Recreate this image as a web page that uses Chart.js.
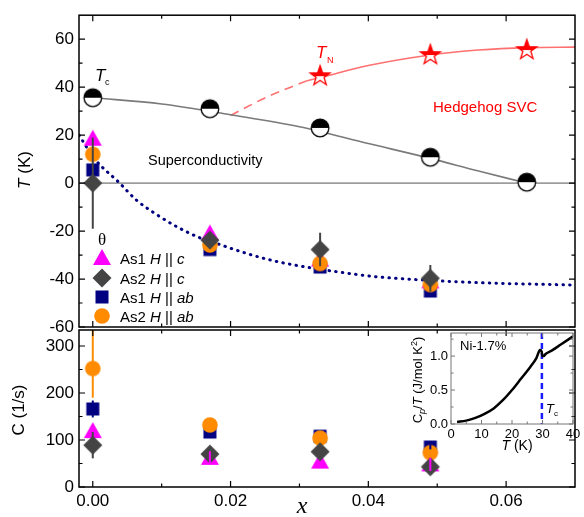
<!doctype html>
<html lang="en">
<head>
<meta charset="utf-8">
<title>Tc, TN and theta vs Ni concentration</title>
<script src="https://cdn.jsdelivr.net/npm/chart.js@4.4.1/dist/chart.umd.min.js"></script>
<style>
  body { margin: 0; background: #fff; }
  canvas { position: absolute; left: 0; top: 0; }
</style>
</head>
<body>
<canvas id="topChart" width="584" height="517"></canvas>
<canvas id="bottomChart" width="584" height="517"></canvas>
<canvas id="insetChart" width="584" height="517"></canvas>
<script>
const SANS = "'Liberation Sans', Arial, sans-serif";
const SERIF = "'Liberation Serif', 'Times New Roman', serif";

// x = Ni concentration
const xMajor = [0, 0.02, 0.04, 0.06];
const xMinor = [0.01, 0.03, 0.05];

// upper panel, temperature (K)
const tMajor = [-60, -40, -20, 0, 20, 40, 60];
const tMinor = [-50, -30, -10, 10, 30, 50];
const tcX = [0, 0.017, 0.033, 0.049, 0.063];
const tcT = [35.6, 31, 23, 10.8, 0.4];
const tnX = [0.033, 0.049, 0.063];
const tnT = [45, 53.8, 55.9];

// guide lines
const tcLineX = [0, 0.01, 0.02, 0.03, 0.04, 0.049, 0.056, 0.063];
const tcLineT = [35.6, 33, 28.5, 23.5, 16.5, 10.3, 5, 0];
const tnDashX = [0.02, 0.025, 0.031];
const tnDashT = [28.2, 35.5, 42.6];
const tnLineX = [0.031, 0.033, 0.04, 0.049, 0.056, 0.063, 0.07];
const tnLineT = [42.6, 44, 49, 53.4, 55.5, 56.5, 56.7];
const thetaLineX = [-0.002, 0.0003, 0.0039, 0.0063, 0.0091, 0.0124, 0.0157, 0.0181, 0.0224, 0.0267, 0.0314, 0.0363, 0.041, 0.0491, 0.0567, 0.07];
const thetaLineT = [20, 10, 0, -7, -12.8, -18.5, -23, -25.3, -29.4, -32.7, -35.2, -37.3, -39, -40.6, -41.6, -42.5];

// theta for the four sites / field directions
const sampleX = [0, 0.017, 0.033, 0.049];
const thetaAs1c = [18.5, -21, -31.9, -41];
const thetaAs2c = [0, -23.8, -27.7, -39.7];
const thetaAs1ab = [5.5, -27.7, -35, -45];
const thetaAs2ab = [12, -25.8, -33.5, -42.3];
const thetaAs2cErr = [19, 1.5, 7, 5.5];

// lower panel, C (1/s)
const cMajor = [0, 100, 200, 300];
const cMinor = [50, 150, 250];
const cAs1c = [119, 62, 54, 48];
const cAs2c = [89, 70, 75, 43];
const cAs1ab = [166, 117, 108, 85];
const cAs2ab = [252, 132, 104, 73];
const cAs1cErr = [0, 14, 0, 14];
const cAs2cErr = [28, 0, 6, 0];
const cAs1abErr = [18, 0, 0, 5];
const cAs2abErrLow = [62, 0, 0, 0];
const cAs2abErrHigh = [85, 0, 0, 0];

// inset, specific heat of Ni-1.7%
const insetTMajor = [0, 10, 20, 30, 40];
const insetTMinor = [5, 15, 25, 35];
const insetCMajor = [0, 0.5, 1.0];
const insetCMinor = [0.25, 0.75, 1.25];
const insetT = [2, 5, 8, 11, 14, 17, 20, 23, 26, 28, 29.2, 29.7, 30, 30.4, 31, 33, 36, 40];
const insetCp = [0.03, 0.05, 0.09, 0.15, 0.23, 0.35, 0.5, 0.67, 0.84, 0.97, 1.09, 1.07, 1.0, 1.0, 1.03, 1.08, 1.17, 1.29];
const insetTc = 29.8;

// ---- marker images ----
function markerCanvas(size, draw) {
  const c = document.createElement('canvas');
  c.width = c.height = size;
  draw(c.getContext('2d'), size / 2);
  return c;
}
const triangleMark = markerCanvas(22, (g, m) => {
  g.fillStyle = '#ff00ff';
  g.beginPath(); g.moveTo(m, m - 9); g.lineTo(m + 9, m + 7); g.lineTo(m - 9, m + 7); g.closePath(); g.fill();
});
const diamondMark = markerCanvas(22, (g, m) => {
  g.fillStyle = '#444';
  g.beginPath(); g.moveTo(m, m - 9.5); g.lineTo(m + 9.5, m); g.lineTo(m, m + 9.5); g.lineTo(m - 9.5, m); g.closePath(); g.fill();
});
const squareMark = markerCanvas(16, (g, m) => {
  g.fillStyle = '#000080';
  g.fillRect(m - 6.5, m - 6.5, 13, 13);
});
const circleMark = markerCanvas(18, (g, m) => {
  g.fillStyle = '#ff8c00';
  g.beginPath(); g.arc(m, m, 7.8, 0, 2 * Math.PI); g.fill();
});
const halfCircleMark = markerCanvas(22, (g, m) => {
  g.beginPath(); g.arc(m, m, 8.8, 0, 2 * Math.PI); g.fillStyle = '#fff'; g.fill();
  g.beginPath(); g.arc(m, m, 8.8, Math.PI, 2 * Math.PI); g.closePath(); g.fillStyle = '#000'; g.fill();
  g.beginPath(); g.arc(m, m, 8.8, 0, 2 * Math.PI); g.lineWidth = 1.3; g.strokeStyle = '#000'; g.stroke();
});
const starMark = markerCanvas(26, (g, m) => {
  const path = () => {
    g.beginPath();
    for (let i = 0; i < 10; i++) {
      const r = i % 2 ? 4.2 : 10.5;
      const a = -Math.PI / 2 + i * Math.PI / 5;
      g.lineTo(m + r * Math.cos(a), m + 1 + r * Math.sin(a));
    }
    g.closePath();
  };
  path(); g.fillStyle = '#fff'; g.fill();
  g.save(); g.beginPath(); g.rect(0, 0, 26, m + 1); g.clip(); path(); g.fillStyle = '#ff0000'; g.fill(); g.restore();
  path(); g.strokeStyle = '#ff0000'; g.lineWidth = 1.3; g.stroke();
});

// ---- helpers ----
const pts = (xs, ys) => xs.map((x, i) => ({ x, y: ys[i] }));
const markers = (xs, ys, img, order) => ({ data: pts(xs, ys), pointStyle: img, pointRadius: 8, order });
const curve = (xs, ys, color, width, dash, order) => ({
  data: pts(xs, ys), showLine: true, pointRadius: 0, borderColor: color, borderWidth: width,
  borderDash: dash, cubicInterpolationMode: 'monotone', order
});

function axis(min, max, ticks, size, pad, fit, fmt) {
  return {
    type: 'linear', min, max,
    afterFit: fit,
    afterBuildTicks: s => { s.ticks = ticks.map(v => ({ value: v })); },
    grid: { display: false, drawTicks: false },
    border: { display: false },
    ticks: { color: '#000', padding: pad, font: { family: SANS, size }, autoSkip: false, maxRotation: 0, callback: fmt }
  };
}

function drawRuns(ctx, x, y, runs, center) {
  let w = 0;
  runs.forEach(r => { ctx.font = r[1]; w += ctx.measureText(r[0]).width; });
  let cx = center ? x - w / 2 : x;
  runs.forEach(r => {
    ctx.font = r[1];
    ctx.fillStyle = r[2] || '#000';
    ctx.fillText(r[0], cx, y + (r[3] || 0));
    cx += ctx.measureText(r[0]).width;
  });
}

function errorBars(list) {
  return {
    id: 'errorBars',
    afterDatasetsDraw(chart) {
      const { ctx, chartArea: a, scales: { x, y } } = chart;
      ctx.save();
      ctx.beginPath(); ctx.rect(a.left, a.top, a.width, a.height); ctx.clip();
      list.forEach(b => {
        ctx.strokeStyle = b.color;
        ctx.lineWidth = b.width;
        b.xs.forEach((xv, i) => {
          const lo = b.low[i], hi = b.high[i];
          if (!lo && !hi) return;
          const px = x.getPixelForValue(xv);
          ctx.beginPath();
          ctx.moveTo(px, y.getPixelForValue(b.ys[i] - lo));
          ctx.lineTo(px, y.getPixelForValue(b.ys[i] + hi));
          ctx.stroke();
        });
      });
      ctx.restore();
    }
  };
}

function frame(cfg) {
  return {
    id: 'frame',
    afterDatasetsDraw(chart) {
      const { ctx, chartArea: a, scales: { x, y } } = chart;
      ctx.save();
      ctx.strokeStyle = cfg.color;
      ctx.lineWidth = cfg.tickWidth;
      ctx.beginPath();
      const xt = (vals, len) => vals.forEach(v => {
        const p = x.getPixelForValue(v);
        ctx.moveTo(p, a.top); ctx.lineTo(p, a.top + len);
        ctx.moveTo(p, a.bottom); ctx.lineTo(p, a.bottom - len);
      });
      const yt = (vals, len) => vals.forEach(v => {
        const p = y.getPixelForValue(v);
        ctx.moveTo(a.left, p); ctx.lineTo(a.left + len, p);
        ctx.moveTo(a.right, p); ctx.lineTo(a.right - len, p);
      });
      xt(cfg.xMajor, cfg.major); xt(cfg.xMinor, cfg.minor);
      yt(cfg.yMajor, cfg.major); yt(cfg.yMinor, cfg.minor);
      ctx.stroke();
      ctx.lineWidth = cfg.lineWidth;
      ctx.strokeRect(a.left, a.top, a.width, a.height);
      ctx.restore();
    }
  };
}

const base = (padding) => ({
  responsive: false, animation: false, events: [],
  layout: { padding },
  plugins: { legend: { display: false }, tooltip: { enabled: false } }
});

// ---- upper panel ----
const topOptions = base({ top: 12, right: 1, bottom: 190, left: 0 });
topOptions.scales = {
  x: { type: 'linear', min: -0.002, max: 0.07, display: false },
  y: axis(-60, 70, tMajor, 17, 5, s => { s.width = 79; })
};

new Chart(document.getElementById('topChart'), {
  type: 'scatter',
  data: {
    datasets: [
      markers(sampleX, thetaAs2c, diamondMark, 1),
      markers(sampleX, thetaAs2ab, circleMark, 2),
      markers(sampleX, thetaAs1c, triangleMark, 3),
      markers(sampleX, thetaAs1ab, squareMark, 4),
      markers(tcX, tcT, halfCircleMark, 5),
      markers(tnX, tnT, starMark, 5),
      curve(tcLineX, tcLineT, '#7a7a7a', 1.6, [], 10),
      curve(tnDashX, tnDashT, '#ff7070', 1.6, [9, 6], 10),
      curve(tnLineX, tnLineT, '#ff7070', 1.6, [], 10),
      Object.assign(curve(thetaLineX, thetaLineT, '#000080', 3, [0.5, 6.2], 10), { borderCapStyle: 'round' })
    ]
  },
  options: topOptions,
  plugins: [
    {
      id: 'zeroLine',
      beforeDatasetsDraw(chart) {
        const { ctx, chartArea: a, scales: { y } } = chart;
        const p = y.getPixelForValue(0);
        ctx.save();
        ctx.strokeStyle = '#555'; ctx.lineWidth = 1;
        ctx.beginPath(); ctx.moveTo(a.left, p); ctx.lineTo(a.right, p); ctx.stroke();
        ctx.restore();
      }
    },
    errorBars([{ xs: sampleX, ys: thetaAs2c, low: thetaAs2cErr, high: thetaAs2cErr, color: '#444', width: 2 }]),
    frame({ color: '#000', tickWidth: 1.2, lineWidth: 1.5, major: 6, minor: 3.5, xMajor, xMinor, yMajor: tMajor, yMinor: tMinor }),
    {
      id: 'labels',
      afterDraw(chart) {
        const ctx = chart.ctx;
        ctx.save();
        ctx.textBaseline = 'alphabetic';
        ctx.textAlign = 'left';
        // axis title
        ctx.save();
        ctx.translate(30, 170); ctx.rotate(-Math.PI / 2);
        drawRuns(ctx, 0, 0, [['T', `italic 17px ${SANS}`], [' (K)', `17px ${SANS}`]], true);
        ctx.restore();
        // annotations
        drawRuns(ctx, 95, 81, [['T', `italic 17px ${SANS}`]]);
        drawRuns(ctx, 105, 85, [['c', `9px ${SANS}`]]);
        drawRuns(ctx, 316, 58, [['T', `italic 17px ${SANS}`, '#ff0000']]);
        drawRuns(ctx, 327, 63, [['N', `9px ${SANS}`, '#ff0000']]);
        drawRuns(ctx, 433, 112, [['Hedgehog SVC', `15px ${SANS}`, '#ff0000']]);
        drawRuns(ctx, 148, 165, [['Superconductivity', `14.5px ${SANS}`]]);
        // legend
        ctx.textAlign = 'center';
        ctx.font = `17px ${SERIF}`;
        ctx.fillStyle = '#000';
        ctx.fillText('θ', 102, 245);
        ctx.textAlign = 'left';
        const rows = [
          [triangleMark, 'As1 ', 'c', 258],
          [diamondMark, 'As2 ', 'c', 278],
          [squareMark, 'As1 ', 'ab', 297],
          [circleMark, 'As2 ', 'ab', 316]
        ];
        rows.forEach(([img, site, dir, yc]) => {
          ctx.drawImage(img, 102 - img.width / 2, yc - img.height / 2);
          drawRuns(ctx, 120, yc + 6, [[site, `15px ${SANS}`], ['H', `italic 15px ${SANS}`], [' || ', `15px ${SANS}`], [dir, `italic 15px ${SANS}`]]);
        });
        ctx.restore();
      }
    }
  ]
});

// ---- lower panel ----
const bottomOptions = base({ top: 330, right: 1, bottom: 0, left: 0 });
bottomOptions.scales = {
  x: axis(-0.002, 0.07, xMajor, 17, 4, s => { s.height = 30; }, v => v.toFixed(2)),
  y: axis(0, 334, cMajor, 17, 5, s => { s.width = 79; })
};

new Chart(document.getElementById('bottomChart'), {
  type: 'scatter',
  data: {
    datasets: [
      markers(sampleX, cAs2c, diamondMark, 1),
      markers(sampleX, cAs2ab, circleMark, 2),
      markers(sampleX, cAs1c, triangleMark, 3),
      markers(sampleX, cAs1ab, squareMark, 4)
    ]
  },
  options: bottomOptions,
  plugins: [
    errorBars([
      { xs: sampleX, ys: cAs2ab, low: cAs2abErrLow, high: cAs2abErrHigh, color: '#ff8c00', width: 2 },
      { xs: sampleX, ys: cAs1ab, low: cAs1abErr, high: cAs1abErr, color: '#000080', width: 2 },
      { xs: sampleX, ys: cAs2c, low: cAs2cErr, high: cAs2cErr, color: '#444', width: 2 },
      { xs: sampleX, ys: cAs1c, low: cAs1cErr, high: cAs1cErr, color: '#ff00ff', width: 2 }
    ]),
    frame({ color: '#000', tickWidth: 1.2, lineWidth: 1.5, major: 6, minor: 3.5, xMajor, xMinor, yMajor: cMajor, yMinor: cMinor }),
    {
      id: 'labels',
      afterDraw(chart) {
        const ctx = chart.ctx;
        ctx.save();
        ctx.textBaseline = 'alphabetic';
        ctx.textAlign = 'left';
        ctx.save();
        ctx.translate(24, 410); ctx.rotate(-Math.PI / 2);
        drawRuns(ctx, 0, 0, [['C (1/s)', `17px ${SANS}`]], true);
        ctx.restore();
        drawRuns(ctx, 302, 513, [['x', `italic 24px ${SERIF}`]], true);
        ctx.restore();
      }
    }
  ]
});

// ---- inset ----
const insetOptions = base({ top: 333, right: 11, bottom: 57, left: 400 });
insetOptions.scales = {
  x: axis(0, 40, insetTMajor, 13, 3, s => { s.height = 36; }),
  y: axis(0, 1.34, insetCMajor, 13, 3, s => { s.width = 51; }, v => v.toFixed(1))
};

new Chart(document.getElementById('insetChart'), {
  type: 'scatter',
  data: {
    datasets: [curve(insetT, insetCp, '#000', 2.5, [], 1)]
  },
  options: insetOptions,
  plugins: [
    {
      id: 'tcLine',
      beforeDatasetsDraw(chart) {
        const { ctx, chartArea: a, scales: { x } } = chart;
        const p = x.getPixelForValue(insetTc);
        ctx.save();
        ctx.strokeStyle = '#1a1aff'; ctx.lineWidth = 2.5; ctx.setLineDash([6, 4]);
        ctx.beginPath(); ctx.moveTo(p, a.top); ctx.lineTo(p, a.bottom); ctx.stroke();
        ctx.restore();
      }
    },
    frame({ color: '#777', tickWidth: 1, lineWidth: 1, major: 4, minor: 2.5, xMajor: insetTMajor, xMinor: insetTMinor, yMajor: insetCMajor, yMinor: insetCMinor }),
    {
      id: 'labels',
      afterDraw(chart) {
        const ctx = chart.ctx;
        ctx.save();
        ctx.textBaseline = 'alphabetic';
        ctx.textAlign = 'left';
        drawRuns(ctx, 460, 350, [['Ni-1.7%', `13px ${SANS}`]]);
        drawRuns(ctx, 546, 413, [['T', `italic 13px ${SANS}`]]);
        drawRuns(ctx, 554, 416, [['c', `8px ${SANS}`]]);
        drawRuns(ctx, 517, 450, [['T', `italic 14px ${SANS}`], [' (K)', `14px ${SANS}`]], true);
        ctx.save();
        ctx.translate(422, 380); ctx.rotate(-Math.PI / 2);
        drawRuns(ctx, 0, 0, [
          ['C', `13px ${SANS}`], ['p', `italic 9px ${SANS}`, '#000', 3], ['/', `13px ${SANS}`],
          ['T', `italic 13px ${SANS}`], [' (J/mol K', `13px ${SANS}`], ['2', `9px ${SANS}`, '#000', -5], [')', `13px ${SANS}`]
        ], true);
        ctx.restore();
        ctx.restore();
      }
    }
  ]
});
</script>
</body>
</html>
